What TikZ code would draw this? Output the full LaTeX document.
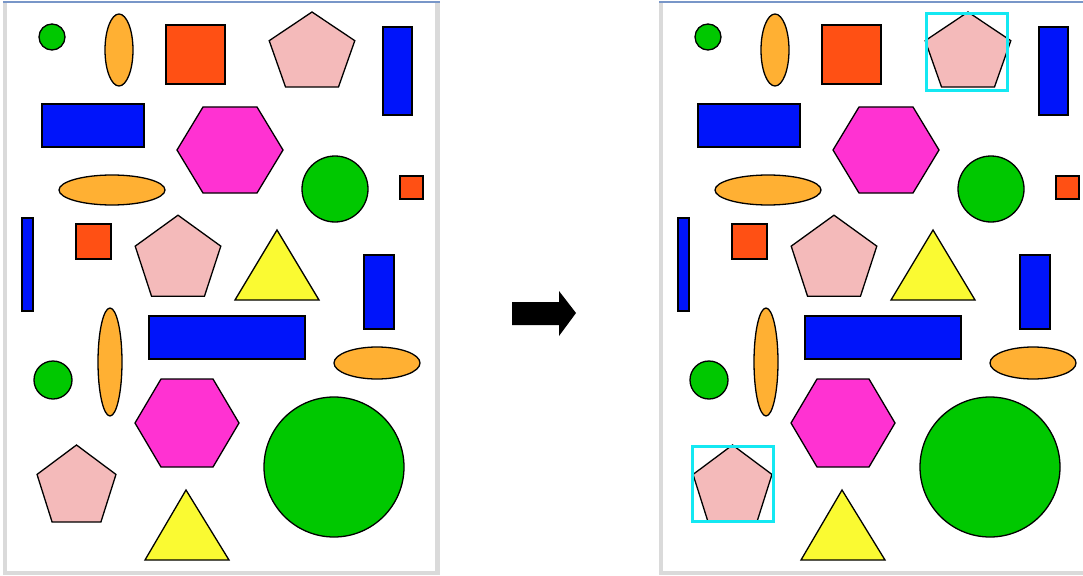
\documentclass[tikz,border=0pt]{standalone}
\usetikzlibrary{calc}
\definecolor{cgreen}{RGB}{0,200,0}
\definecolor{corange}{RGB}{255,176,51}
\definecolor{cred}{RGB}{255,80,20}
\definecolor{cpink}{RGB}{244,186,186}
\definecolor{cblue}{RGB}{0,20,250}
\definecolor{cmag}{RGB}{255,50,210}
\definecolor{cyel}{RGB}{250,250,50}
\definecolor{ccyan}{RGB}{20,232,242}
\definecolor{cframe}{RGB}{218,218,218}
\definecolor{ctop}{RGB}{120,150,200}
\tikzset{
  shp/.style={draw=black,line width=1.3pt},
  grn/.style={shp,fill=cgreen},
  org/.style={shp,fill=corange},
  red/.style={shp,fill=cred},
  pnk/.style={shp,fill=cpink},
  blu/.style={shp,fill=cblue},
  mag/.style={shp,fill=cmag},
  yel/.style={shp,fill=cyel},
  selbox/.style={draw=ccyan,line width=3pt},
}
\newcommand\mypent[4]{\draw[pnk,shift={(#1,#2)},xscale=#3,yscale=#4]
  (-90:1)--(-18:1)--(54:1)--(126:1)--(198:1)--cycle;}
\begin{document}
\begin{tikzpicture}[x=1pt,y=-1pt]
\useasboundingbox (0,0) rectangle (1083,575);
\fill[white] (0,0) rectangle (1083,575);
\foreach \dx/\sel in {0/0,656/1}{
\begin{scope}[xshift=\dx pt]
  % frame
  \fill[cframe] (3,3) rectangle (7,575);
  \fill[cframe] (3,571) rectangle (440,575);
  \ifnum\sel=0 \fill[cframe] (435,3) rectangle (440,575); \fi
  \fill[ctop] (3,1) rectangle (\ifnum\sel=0 440\else 430\fi,3);
  % shapes
  \draw[grn] (52,37) circle[radius=13];
  \draw[org] (119,50) ellipse[x radius=14,y radius=36];
  \draw[red] (166,25) rectangle (225,84);
  \mypent{312}{53.5}{45}{41.5}
  \draw[blu] (383,27) rectangle (412,115);
  \draw[blu] (42,104) rectangle (144,147);
  \draw[mag] (177,150)--(203,107)--(257,107)--(283,150)--(257,193)--(203,193)--cycle;
  \draw[org] (112,190) ellipse[x radius=53,y radius=15];
  \draw[grn] (335,189) circle[radius=33];
  \draw[red] (400,176) rectangle (423,199);
  \draw[blu] (22,218) rectangle (33,311);
  \draw[red] (76,224) rectangle (111,259);
  \mypent{178}{260}{45}{44.8}
  \draw[yel] (277,230)--(319,300)--(235,300)--cycle;
  \draw[blu] (364,255) rectangle (394,329);
  \draw[org] (110,362) ellipse[x radius=12,y radius=54];
  \draw[blu] (149,316) rectangle (305,359);
  \draw[org] (377,363) ellipse[x radius=43,y radius=16];
  \draw[grn] (53,380) circle[radius=19];
  \draw[mag] (135,423)--(161,379)--(213,379)--(239,423)--(213,467)--(161,467)--cycle;
  \draw[grn] (334,467) circle[radius=70];
  \mypent{76.5}{487.6}{41.5}{42.6}
  \draw[yel] (186,490)--(229,560)--(145,560)--cycle;
  \ifnum\sel=1
    \draw[selbox] (270,14) rectangle (351,91);
    \draw[selbox] (36,446) rectangle (117,521);
  \fi
\end{scope}
}
\fill[black] (512,302) -- (559,302) -- (559,291) -- (576,313) -- (559,336) -- (559,325) -- (512,325) -- cycle;
\end{tikzpicture}
\end{document}
